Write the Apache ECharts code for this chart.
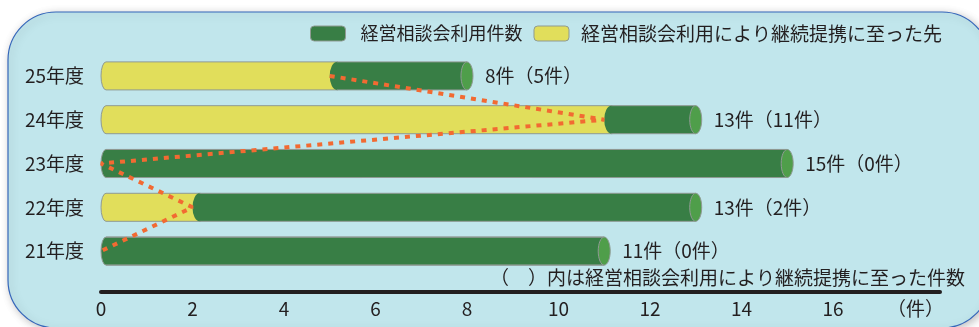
<!DOCTYPE html>
<html>
<head>
<meta charset="utf-8">
<script src="https://cdn.jsdelivr.net/npm/echarts@6/dist/echarts.min.js"></script>
<style>
  html, body { margin: 0; background: #fff; }
  #chart { width: 979px; height: 327px; }
</style>
</head>
<body>
<div id="chart"></div>
<script>
// 年度（下から上）
const years = ['21年度', '22年度', '23年度', '24年度', '25年度']
// 経営相談会利用件数
const totalCount = [11, 13, 15, 13, 8]
// 経営相談会利用により継続提携に至った先
const contCount = [0, 2, 0, 11, 5]

const FONT = '"Noto Sans CJK JP", "Noto Sans", sans-serif'
const GREEN = '#387e45'
const GREEN_CAP = '#4f9e4a'
const YELLOW = '#e1de5b'
const EDGE = '#8f9a93'
const RED = '#f26a32'
const INK = '#231f20'

// cylinder body with an elliptic left end
function bodyPath(xs, xe, yc, h, rx) {
  const top = yc - h / 2, bot = yc + h / 2
  return 'M' + (xs + rx) + ' ' + top + 'L' + xe + ' ' + top + 'L' + xe + ' ' + bot +
    'L' + (xs + rx) + ' ' + bot + 'A' + rx + ' ' + (h / 2) + ' 0 0 1 ' + (xs + rx) + ' ' + top + 'Z'
}

function renderYellow(params, api) {
  const cont = api.value(0)
  if (!cont) return null
  const yc = api.coord([0, api.value(2)])[1]
  const h = api.size([0, 1])[1] * 0.64
  const x0 = api.coord([0, api.value(2)])[0]
  const xc = api.coord([cont, api.value(2)])[0]
  return {
    type: 'path',
    shape: { pathData: bodyPath(x0, xc + 8, yc, h, 5) },
    style: { fill: YELLOW, stroke: EDGE, lineWidth: 1 }
  }
}

function renderGreen(params, api) {
  const cont = api.value(0)
  const total = api.value(1)
  const yc = api.coord([0, api.value(2)])[1]
  const h = api.size([0, 1])[1] * 0.64
  const xs = api.coord([cont, api.value(2)])[0]
  const xe = api.coord([total, api.value(2)])[0]
  const rx = cont ? 7 : 5
  return {
    type: 'group',
    children: [
      {
        type: 'path',
        shape: { pathData: bodyPath(xs, xe, yc, h, rx) },
        style: { fill: GREEN, stroke: cont ? null : EDGE, lineWidth: 1 }
      },
      {
        type: 'line',
        shape: { x1: xs + rx, y1: yc - h / 2, x2: xe, y2: yc - h / 2 },
        style: { stroke: EDGE, lineWidth: 1 }
      },
      {
        type: 'line',
        shape: { x1: xs + rx, y1: yc + h / 2, x2: xe, y2: yc + h / 2 },
        style: { stroke: EDGE, lineWidth: 1 }
      },
      {
        type: 'ellipse',
        shape: { cx: xe, cy: yc, rx: 6, ry: h / 2 },
        style: { fill: GREEN_CAP, stroke: EDGE, lineWidth: 1 }
      },
      {
        type: 'text',
        style: {
          text: total + '件（' + cont + '件）',
          x: xe + 18, y: yc,
          verticalAlign: 'middle',
          fill: INK,
          font: '19px ' + FONT
        }
      }
    ]
  }
}

const barData = years.map((y, i) => [contCount[i], totalCount[i], i])
// 点線は上（25年度）から下へ
const lineData = years.map((y, i) => [contCount[i], y]).reverse()

const chart = echarts.init(document.getElementById('chart'))
chart.setOption({
  backgroundColor: '#ffffff',
  animation: false,
  textStyle: { fontFamily: FONT },
  graphic: [
    {
      type: 'rect',
      z: -10,
      shape: { x: 8, y: 12, width: 982, height: 316, r: 48 },
      style: {
        fill: '#c1e6ec', stroke: '#3566ba', lineWidth: 1.2,
        shadowBlur: 8, shadowColor: 'rgba(0,0,0,0.25)', shadowOffsetX: 2, shadowOffsetY: 2
      }
    },
    {
      type: 'text',
      right: 14,
      top: 268,
      style: {
        text: '（　）内は経営相談会利用により継続提携に至った件数',
        fill: INK,
        font: '19px ' + FONT
      }
    }
  ],
  legend: {
    left: 305,
    top: 19,
    itemWidth: 35,
    itemHeight: 15,
    itemGap: 11,
    icon: 'roundRect',
    itemStyle: { borderColor: EDGE, borderWidth: 1 },
    textStyle: { fontSize: 19, color: INK, fontFamily: FONT, padding: [0, 0, 0, 10] },
    data: [
      { name: '経営相談会利用件数', textStyle: { fontSize: 18 } },
      { name: '経営相談会利用により継続提携に至った先', textStyle: { padding: [0, 0, 0, 7] } }
    ]
  },
  grid: { left: 101, right: 39, top: 54, bottom: 54 },
  xAxis: {
    type: 'value',
    min: 0,
    max: 18.34,
    interval: 2,
    offset: 19,
    axisLine: { show: true, lineStyle: { color: INK, width: 4 } },
    axisTick: { show: false },
    splitLine: { show: false },
    axisLabel: {
      margin: 7,
      fontSize: 19,
      color: INK,
      fontFamily: FONT,
      formatter: v => v === 18 ? '{u|（件）}' : (v % 2 === 0 ? String(v) : ''),
      rich: { u: { fontSize: 19, color: INK, fontFamily: FONT, padding: [0, 18, 0, 0] } }
    }
  },
  yAxis: {
    type: 'category',
    data: years,
    axisLine: { show: false },
    axisTick: { show: false },
    axisLabel: { margin: 17, fontSize: 19, color: INK, fontFamily: FONT }
  },
  series: [
    {
      name: '経営相談会利用により継続提携に至った先',
      type: 'custom',
      itemStyle: { color: YELLOW },
      encode: { x: [0, 1], y: 2 },
      renderItem: renderYellow,
      data: barData,
      z: 2
    },
    {
      name: '経営相談会利用件数',
      type: 'custom',
      itemStyle: { color: GREEN },
      encode: { x: [0, 1], y: 2 },
      renderItem: renderGreen,
      data: barData,
      z: 3
    },
    {
      type: 'line',
      data: lineData,
      symbol: 'none',
      silent: true,
      lineStyle: { color: RED, width: 4, type: [5, 6] },
      z: 5
    }
  ]
})
</script>
</body>
</html>
